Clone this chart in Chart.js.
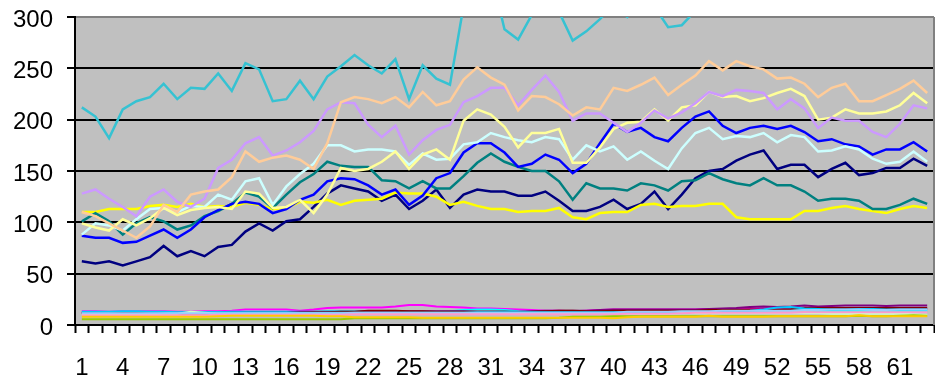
<!DOCTYPE html>
<html>
<head>
<meta charset="utf-8">
<script src="https://cdn.jsdelivr.net/npm/chart.js@4/dist/chart.umd.min.js"></script>
<style>
  html, body { margin: 0; padding: 0; background: #ffffff; }
  #wrap { width: 935px; height: 381px; }
</style>
</head>
<body>
<div id="wrap"><canvas id="chart" width="935" height="381"></canvas></div>
<script>
// Category labels 1..63
const categories = Array.from({ length: 63 }, (_, i) => String(i + 1));

// Y axis range / tick spacing
const yTicks = [0, 50, 100, 150, 200, 250, 300];

// ---- Series (upper group) ----
const sNavy = [62,60,62,58,62,66,77,67,72,67,76,78,91,99,92,101,103,115,128,136,133,130,121,127,113,121,132,114,127,132,130,130,126,126,130,121,111,111,115,122,113,118,130,113,127,143,150,152,160,166,170,152,156,156,144,152,158,146,148,153,153,162,155];
const sYellow = [110,110,113,113,113,116,117,115,118,115,116,115,119,117,113,114,120,119,122,117,121,122,123,129,128,128,125,117,120,116,113,113,110,111,111,114,105,103,109,110,110,117,118,115,116,116,118,118,105,103,103,103,103,111,111,114,116,113,111,109,113,116,114];
const sTeal = [101,109,101,88,99,105,101,93,97,106,111,118,129,125,114,127,139,147,159,155,154,154,141,140,133,140,133,133,145,158,167,159,154,150,150,140,122,138,133,133,131,138,136,131,140,141,148,142,138,136,143,136,136,130,121,123,123,121,113,113,117,123,118];
const sBlue = [87,85,85,80,81,87,93,85,93,105,112,118,120,118,109,113,122,127,140,143,142,136,127,132,117,126,143,148,168,177,177,168,154,157,166,161,148,157,177,196,188,192,183,179,192,203,208,194,187,192,194,191,194,188,179,181,176,174,166,171,171,178,169];
const sLightTurquoise = [88,99,97,92,103,113,114,110,116,115,127,122,140,143,117,135,147,157,175,175,169,171,171,169,156,167,161,162,176,178,187,183,180,178,183,181,161,175,169,174,161,169,160,152,172,187,192,181,184,183,187,178,185,183,169,170,174,171,162,157,159,169,159];
const sLightYellow = [99,95,92,103,97,104,114,107,112,114,115,113,130,128,114,115,122,109,127,153,150,152,159,169,152,166,171,161,199,210,205,193,173,187,187,191,158,158,173,191,197,198,210,199,212,214,227,222,223,218,221,226,230,223,200,202,210,206,206,208,214,226,216];
const sLavender = [128,132,123,115,106,125,132,120,115,123,153,161,177,183,165,170,178,189,210,217,216,195,183,194,166,180,190,195,217,223,231,231,214,229,243,227,199,206,206,197,188,197,209,201,207,216,227,223,229,228,226,210,220,211,192,202,199,199,188,183,196,214,211];
const sTan = [110,106,99,92,85,96,117,110,127,130,132,144,169,159,163,165,161,152,177,217,222,220,216,222,212,227,214,218,239,251,241,234,209,223,222,215,204,212,210,231,228,234,241,224,234,243,257,248,257,252,249,240,241,235,222,231,235,218,218,224,230,238,226];
const sAqua = [212,203,182,210,218,222,235,220,231,230,245,228,255,249,218,220,238,220,242,252,263,253,245,259,220,253,240,234,311,330,344,288,278,302,315,305,277,286,298,312,300,315,310,290,292,306,315,322,330,318,325,335,328,320,330,340,332,325,338,345,336,330,340];

// ---- Series (lower group) ----
const sMagenta = [13.5,13.5,13,13.5,13.5,13.5,13.5,13,13,13.5,13.5,14,15,15,15,15,14,15,16.5,17,17,17,17,18,19.5,19.5,18,17.5,17,16,16,15.5,15,14.5,14,14,13.5,14,14.5,15,15,15,15,15,15,15,15.5,15.5,15.5,16,16,16,16,16,16,16,16,16,16,16,16,16,16];
const sCyan = [12.5,12.5,12.5,12.5,12.5,12,12,12,12.5,12.5,12.5,13,13,13,13,13,13,13,13.5,13.5,13.5,13.5,13.5,13,13,13,13,13.5,14.5,15,15,14.5,13.5,13,13,13,13,13,13,13,13,13,13,13,13.5,13.5,13.5,14,14,14,14,14.5,14.5,14.5,14,14,14,14,14,14,14,14,14];
const sPurple = [12,12,12,12,12,12,12,12,12,12,12,12.5,12.5,12.5,12.5,12.5,13,13,13,13,13,13.5,13.5,13.5,13.5,13.5,13.5,13.5,13.5,13,13,13,13,13.5,14,14,14,14,14.5,15,15,15,15,15,15,15,15.5,16,16.5,17.5,18,17.5,18,19,18,18.5,19,19,19,18.5,19,19,19];
const sMaroon = [11.5,11.5,11.5,11.5,11.5,11.5,11.5,11.5,11.5,11.5,11.5,11.5,12,12,12,12,12,12.5,12.5,13,13,14,14,14,13.5,13.5,13,13,13,13,13,13,12.5,13,13.5,14,14,13.5,13.5,14,14,14,14,14,14,14,14.5,14.5,14.5,15,15,15,15.5,16.5,16.5,16.5,16.5,16.5,16.5,16.5,16.5,16.5,16.5];
const sSkyBlue = [13,13,13,13.5,13.5,13,13,12.5,12.5,12.5,12.5,12.5,12.5,12.5,12.5,12.5,12,12,12,12,12,12,12,12,12,12,12,12,12,12.5,12.5,12.5,12.5,12.5,12.5,12.5,12.5,12.5,12.5,12.5,12.5,12.5,12.5,12.5,13,13,13,13,13.5,14,15,17,17.5,16,15.5,15,15,15.5,15.5,15,15,15,15];
const sLightGreen = [10.5,10.5,10.5,10.5,10.5,10.5,11,11,13,12,11,11,11,11,11,11,11,11,11,11,11,11,11,11,11,11,11,11,11,11,11,11,11,11,11,11,11,11,11,11,11,11,11,11,11.5,11.5,11.5,11.5,11.5,11.5,11.5,11.5,11.5,11.5,11.5,11,11,11,11,11,11,10.5,10];
const sPaleBlue = [11.5,11.5,11.5,11.5,11.5,11.5,11.5,11.5,11.5,11.5,11.5,11.5,11.5,11.5,11.5,11.5,11.5,11.5,11.5,11.5,12,12,12,12,12,12,12,12,12,12,12,12,12,12,12,12,12,12,12,12,13,13,13,13,13.5,13.5,13.5,14,14,14,14,14,14,14.5,14.5,15,15,15,14.5,14.5,15,15,15];
const sRose = [9.5,9.5,9.5,9.5,9.5,9.5,9.5,9.5,9.5,9.5,10,10,10,10,10,10,10,10,10,10,10.5,10.5,10.5,10.5,10.5,10.5,10.5,10.5,10.5,10.5,10.5,10.5,10.5,10.5,10.5,10.5,10.5,10.5,10.5,10.5,11,11,11,11,11.5,12,12,12,12,12,12,12,12,12.5,12.5,12.5,12.5,12.5,12.5,12.5,12.5,12.5,12.5];
const sLime = [5.5,5.5,5.5,5.5,5.5,5.5,5.5,5.5,5.5,5.5,5.5,5.5,5.5,5.5,5.5,5.5,5.5,5.5,5.5,5.5,6.5,6.5,6.5,6.5,6.5,6.5,6.5,6.5,6.5,6.5,6.5,6.5,6.5,6.5,6.5,7,8,8,8,8.5,8.5,8.5,8.5,8.5,8.5,8.5,8.5,8.5,8.5,8.5,8.5,8.5,8.5,8.5,8.5,8.5,8.5,9,8.5,8.5,9,9.5,9];
const sGold = [8,8,8,8,8,8,8,8,8,8,8.5,9,9,9,9,9,9,9,8.5,8.5,7.5,7.5,7.5,7.5,7.5,7,7,7,7,7,7,7,7,7,7,7,7,7,7,6.5,7.5,8,8,8,8,8,9,8,8,8,8,8.5,8.5,8.5,8.5,8.5,8.5,9.5,8.5,8.5,8.5,8.5,8.5];

// Series listed in drawing order (later entries are painted on top)
const seriesList = [
  { data: sNavy,           color: '#000080', width: 2.5 },
  { data: sMagenta,        color: '#FF00FF', width: 2 },
  { data: sYellow,         color: '#FFFF00', width: 2.5 },
  { data: sCyan,           color: '#00FFFF', width: 2 },
  { data: sPurple,         color: '#800080', width: 2 },
  { data: sMaroon,         color: '#800000', width: 2 },
  { data: sTeal,           color: '#008080', width: 2.5 },
  { data: sBlue,           color: '#0000FF', width: 2.5 },
  { data: sSkyBlue,        color: '#00CCFF', width: 2 },
  { data: sLightTurquoise, color: '#CCFFFF', width: 2.5 },
  { data: sLightGreen,     color: '#CCFFCC', width: 2 },
  { data: sLightYellow,    color: '#FFFF99', width: 2.5 },
  { data: sPaleBlue,       color: '#99CCFF', width: 2 },
  { data: sRose,           color: '#FF99CC', width: 2 },
  { data: sLavender,       color: '#CC99FF', width: 2.5 },
  { data: sTan,            color: '#FFCC99', width: 2.5 },
  { data: sAqua,           color: '#36C2D2', width: 2.5 },
  { data: sLime,           color: '#99CC00', width: 2 },
  { data: sGold,           color: '#FFCC00', width: 2 }
];

const datasets = seriesList.map((s, i) => ({
  data: s.data,
  borderColor: s.color,
  backgroundColor: s.color,
  borderWidth: s.width,
  pointRadius: 0,
  pointHoverRadius: 0,
  tension: 0,
  fill: false,
  order: seriesList.length - i
}));

// Gray plot background and right-hand frame line
const plotFrame = {
  id: 'plotFrame',
  beforeDraw(chart) {
    const { ctx, chartArea: a } = chart;
    ctx.save();
    ctx.fillStyle = '#C0C0C0';
    ctx.fillRect(a.left, a.top, a.right - a.left, a.bottom - a.top);
    ctx.restore();
  },
  afterDraw(chart) {
    const { ctx, chartArea: a } = chart;
    ctx.save();
    ctx.strokeStyle = '#808080';
    ctx.lineWidth = 2;
    ctx.beginPath();
    ctx.moveTo(a.right, a.top);
    ctx.lineTo(a.right, a.bottom);
    ctx.stroke();
    ctx.restore();
  }
};

const axisFont = { family: "'Liberation Sans', Arial, sans-serif", size: 24 };

new Chart(document.getElementById('chart'), {
  type: 'line',
  data: { labels: categories, datasets },
  plugins: [plotFrame],
  options: {
    responsive: false,
    devicePixelRatio: 1,
    animation: false,
    events: [],
    layout: { padding: { top: 17, right: 1, left: 0, bottom: 0 } },
    plugins: { legend: { display: false }, tooltip: { enabled: false } },
    scales: {
      x: {
        type: 'category',
        offset: true,
        grid: {
          offset: true,
          drawOnChartArea: false,
          drawTicks: true,
          tickLength: 8,
          tickColor: '#000000',
          tickWidth: 2
        },
        border: { display: true, color: '#000000', width: 2 },
        ticks: {
          autoSkip: false,
          maxRotation: 0,
          minRotation: 0,
          padding: 21,
          color: '#000000',
          font: axisFont,
          callback: (v, i) => (i % 3 === 0 ? categories[i] : '')
        },
        afterFit: (s) => { s.height = 56; s.paddingLeft = 0; s.paddingRight = 0; }
      },
      y: {
        min: yTicks[0],
        max: yTicks[yTicks.length - 1],
        afterBuildTicks: (s) => { s.ticks = yTicks.map(v => ({ value: v })); },
        grid: {
          color: (c) => (c.tick && c.tick.value === 300 ? '#808080' : '#000000'),
          lineWidth: 2,
          tickColor: '#000000',
          tickLength: 8,
          drawTicks: true
        },
        border: { display: true, color: '#000000', width: 2 },
        ticks: {
          padding: 14,
          labelOffset: 3,
          color: '#000000',
          font: axisFont
        },
        afterFit: (s) => { s.width = 75; s.paddingTop = 0; s.paddingBottom = 0; }
      }
    }
  }
});
</script>
</body>
</html>
